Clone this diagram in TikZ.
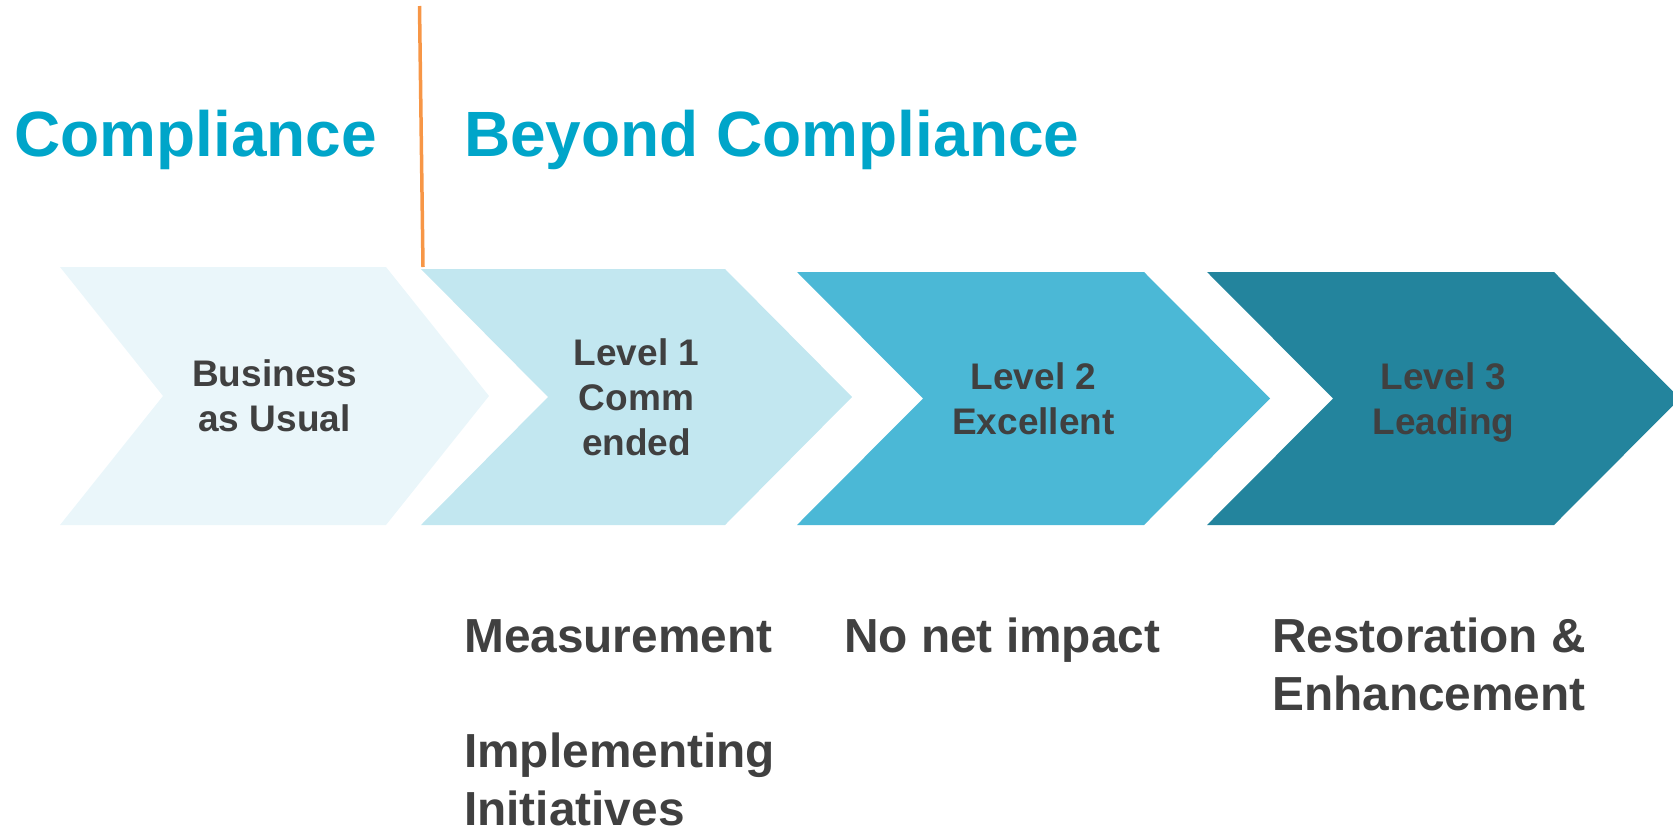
\documentclass[tikz,border=0pt]{standalone}
\usepackage{fontspec}
\setmainfont{Liberation Sans}
\usepackage{xcolor}
\usetikzlibrary{positioning, calc}
\definecolor{titleblue}{HTML}{00A5C9}
\definecolor{darktext}{HTML}{404040}
\definecolor{lineorange}{HTML}{F79646}
\definecolor{chevA}{HTML}{EAF6FA}
\definecolor{chevB}{HTML}{C2E7F0}
\definecolor{chevC}{HTML}{4BB8D6}
\definecolor{chevD}{HTML}{23849D}

\begin{document}
\begin{tikzpicture}[x=1pt, y=-1pt,
  title/.style={text=titleblue, font=\bfseries\fontsize{64}{77}\selectfont, anchor=base west, inner sep=0pt},
  chevlabel/.style={text=darktext, font=\bfseries\fontsize{37}{45}\selectfont, align=center, text depth=0pt, inner sep=0pt},
  note/.style={text=darktext, font=\bfseries\fontsize{47.8}{57.5}\selectfont, align=left, anchor=base west, inner sep=0pt}]
\useasboundingbox (0,0) rectangle (1673,830);

% chevrons: left/top/body width/tip depth/colour/name/label
\foreach \lx/\ty/\bw/\tip/\col/\nm/\lbl in {
  60/267/326/103/chevA/bau/{Business\\as Usual},
  421/269/304/127/chevB/lvlone/{Level 1\\Comm\\ended},
  797/272/347/126/chevC/lvltwo/{Level 2\\Excellent},
  1207/272/347/126/chevD/lvlthree/{Level 3\\Leading}} {
  \pgfmathsetmacro{\my}{(\ty+525)/2}
  \fill[\col] (\lx,\ty) -- (\lx+\bw,\ty) -- (\lx+\bw+\tip,\my) -- (\lx+\bw,525)
    -- (\lx,525) -- (\lx+\tip,\my) -- cycle;
  \node[chevlabel] (\nm) at ({\lx+(\bw+\tip)/2},\my) {\lbl};
}

% divider between the two headings
\coordinate (divtop) at (419.5,6);
\coordinate (divbot) at (423,267);
\draw[lineorange, line width=3.5pt] (divtop) -- (divbot);

\node[title] (comp) at (14,156) {Compliance};
\node[title] (beyond) at (464,156) {Beyond Compliance};

% notes under the levels (base = last line)
\node[note] (meas) at (464,652.7) {Measurement};
\node[note] (impl) at (464,825) {Implementing\\Initiatives};
\node[note] (nonet) at (844,652.7) {No net impact};
\node[note] (restore) at (1272,710) {Restoration \&\\Enhancement};
\end{tikzpicture}
\end{document}
